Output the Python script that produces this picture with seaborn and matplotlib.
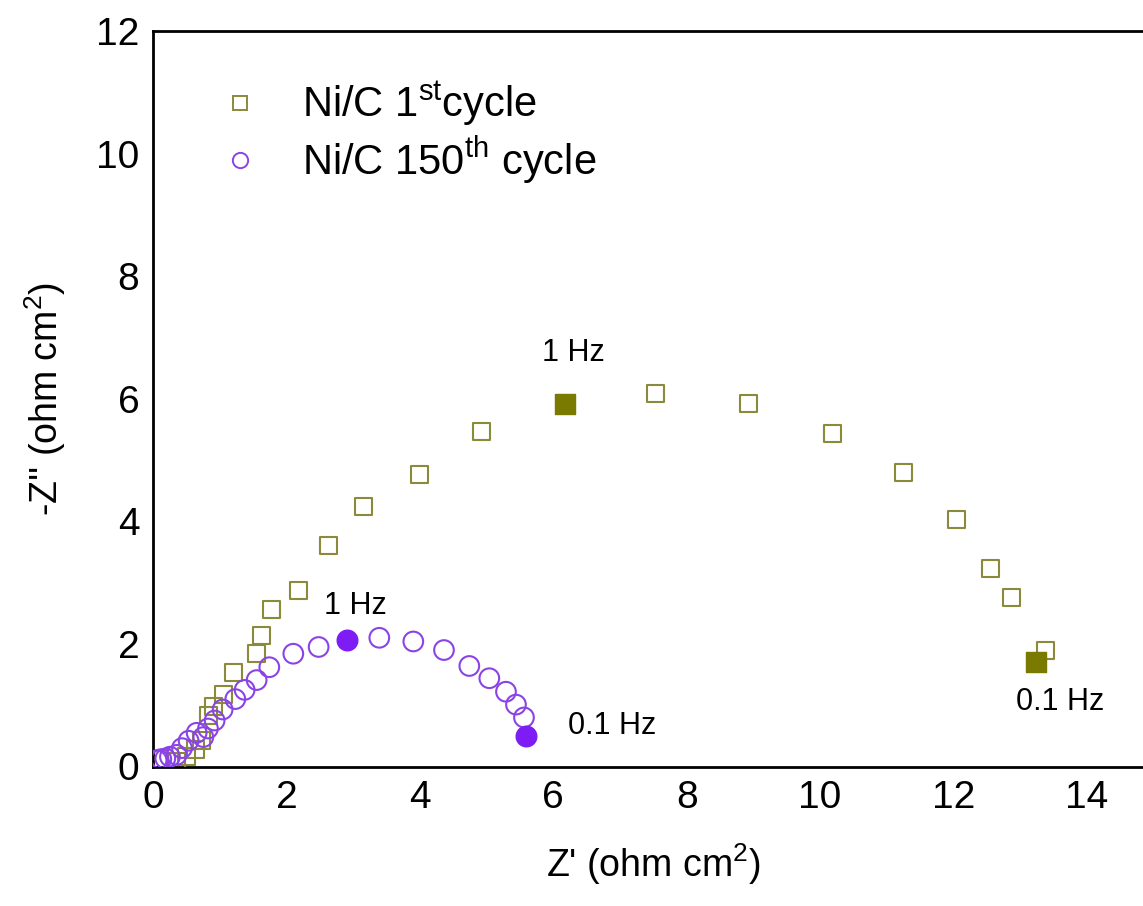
import numpy as np
import pandas as pd
import matplotlib
matplotlib.use("Agg")
import matplotlib.pyplot as plt
from matplotlib.lines import Line2D
from matplotlib.ticker import MultipleLocator
import seaborn as sns

# ---- data ----
z_re_1st = [0.35, 0.50, 0.63, 0.73, 0.83, 0.90, 1.05, 1.21, 1.55, 1.63, 1.78, 2.18,
            2.63, 3.16, 3.99, 4.93, 7.53, 8.93, 10.19, 11.25, 12.05, 12.55, 12.87, 13.38]
z_im_1st = [0.08, 0.16, 0.27, 0.43, 0.84, 0.98, 1.17, 1.53, 1.84, 2.13, 2.56, 2.87,
            3.61, 4.24, 4.77, 5.46, 6.09, 5.93, 5.44, 4.79, 4.03, 3.23, 2.75, 1.89]
z_re_1st_marked = [6.17, 13.24]   # 1 Hz, 0.1 Hz
z_im_1st_marked = [5.91, 1.71]

z_re_150 = [0.05, 0.08, 0.12, 0.18, 0.25, 0.35, 0.43, 0.53, 0.65, 0.75, 0.82, 0.92,
            1.04, 1.23, 1.37, 1.55, 1.74, 2.10, 2.48, 3.39, 3.90, 4.36, 4.74, 5.04,
            5.29, 5.44, 5.56]
z_im_150 = [0.10, 0.11, 0.12, 0.13, 0.16, 0.19, 0.30, 0.42, 0.55, 0.48, 0.62, 0.75,
            0.93, 1.10, 1.25, 1.41, 1.62, 1.84, 1.95, 2.10, 2.04, 1.90, 1.64, 1.44,
            1.22, 1.01, 0.80]
z_re_150_marked = [2.90, 5.59]   # 1 Hz, 0.1 Hz
z_im_150_marked = [2.06, 0.50]

labels = [r"Ni/C 1$^{\mathrm{st}}$cycle", r"Ni/C 150$^{\mathrm{th}}$ cycle"]
annotations = [("1 Hz", 6.30, 6.74), ("0.1 Hz", 13.60, 1.06),
               ("1 Hz", 3.03, 2.62), ("0.1 Hz", 6.88, 0.66)]

olive_edge = "#8a8a3a"
olive_fill = "#7a7a00"
purple_edge = "#8a44e6"
purple_fill = "#7d1cf5"

sns.set_theme(style="white")
plt.rcParams["font.family"] = ["Liberation Sans", "DejaVu Sans"]
plt.rcParams["mathtext.fontset"] = "custom"
plt.rcParams["mathtext.rm"] = "Liberation Sans"
plt.rcParams["mathtext.it"] = "Liberation Sans:italic"
plt.rcParams["mathtext.bf"] = "Liberation Sans:bold"
plt.rcParams["text.color"] = "black"
plt.rcParams["axes.labelcolor"] = "black"

fig = plt.figure(figsize=(11.43, 9.06), dpi=100)
ax = fig.add_axes([153.3 / 1143, 1 - 766.5 / 906, 15 * 66.67 / 1143, 735.5 / 906])

df1 = pd.DataFrame({"x": z_re_1st, "y": z_im_1st})
df1m = pd.DataFrame({"x": z_re_1st_marked, "y": z_im_1st_marked})
df2 = pd.DataFrame({"x": z_re_150, "y": z_im_150})
df2m = pd.DataFrame({"x": z_re_150_marked, "y": z_im_150_marked})

sns.scatterplot(data=df1, x="x", y="y", ax=ax, marker="s", s=150,
                facecolor="none", edgecolor=olive_edge, linewidth=1.5, zorder=3)
sns.scatterplot(data=df1m, x="x", y="y", ax=ax, marker="s", s=210,
                color=olive_fill, edgecolor=olive_fill, linewidth=1.0, zorder=4)
sns.scatterplot(data=df2, x="x", y="y", ax=ax, marker="o", s=200,
                facecolor="none", edgecolor=purple_edge, linewidth=1.5, zorder=5)
sns.scatterplot(data=df2m, x="x", y="y", ax=ax, marker="o", s=220,
                color=purple_fill, edgecolor=purple_fill, linewidth=1.0, zorder=6)
for coll in ax.collections[:1] + ax.collections[2:3]:
    coll.set_facecolor("none")

for txt, x, y in annotations:
    ax.text(x, y, txt, ha="center", va="center", fontsize=22, color="black")

ax.set_xlim(0, 15)
ax.set_ylim(0, 12)
ax.xaxis.set_major_locator(MultipleLocator(2))
ax.xaxis.set_minor_locator(MultipleLocator(1))
ax.yaxis.set_major_locator(MultipleLocator(2))
ax.yaxis.set_minor_locator(MultipleLocator(1))
ax.tick_params(which="both", direction="in", top=False, right=False,
               width=1.6, colors="black", labelsize=28, pad=10)
ax.tick_params(which="major", length=10)
ax.tick_params(which="minor", length=6)
for sp in ax.spines.values():
    sp.set_color("black")
    sp.set_linewidth(2.0)

ax.set_xlabel(r"Z' (ohm cm$^{2}$)", fontsize=27, labelpad=18, color="black")
ax.set_ylabel(r"-Z'' (ohm cm$^{2}$)", fontsize=27, labelpad=20, color="black")

handles = [
    Line2D([], [], linestyle="none", marker="s", markersize=10,
           markerfacecolor="none", markeredgecolor=olive_edge, markeredgewidth=1.4),
    Line2D([], [], linestyle="none", marker="o", markersize=11,
           markerfacecolor="none", markeredgecolor=purple_edge, markeredgewidth=1.4),
]
leg = ax.legend(handles, labels, loc="upper left", frameon=False, fontsize=30,
                bbox_to_anchor=(0.028, 0.985), handlelength=1.0, handletextpad=1.0,
                labelspacing=0.15)
for t in leg.get_texts():
    t.set_color("black")

fig.savefig("out.png", dpi=100)
